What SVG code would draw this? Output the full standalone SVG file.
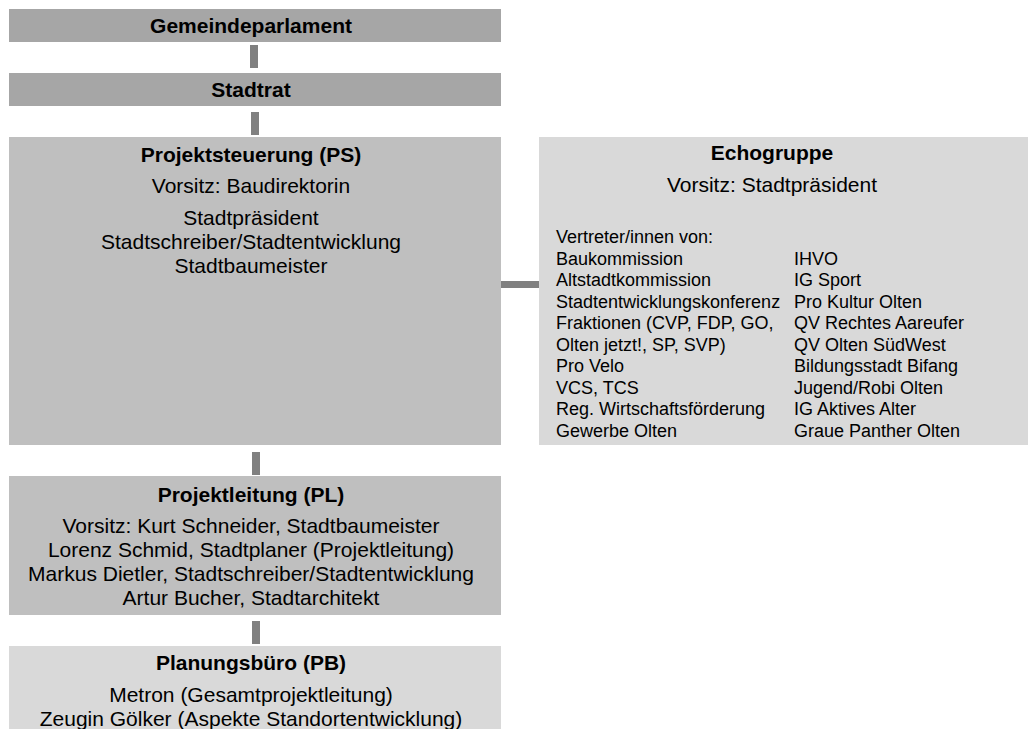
<svg xmlns="http://www.w3.org/2000/svg" width="1028" height="729" viewBox="0 0 1028 729">
<style>
text{font-family:"Liberation Sans",Arial,sans-serif;fill:#000;}
.t{font-size:21px;text-anchor:middle;}
.b{font-weight:bold;}
.l{font-size:18px;}
.dk{fill:#a6a6a6;}
.md{fill:#bfbfbf;}
.lt{fill:#d9d9d9;}
.cn{fill:#808080;}
</style>
<rect width="1028" height="729" fill="#ffffff"/>
<g id="connectors">
<rect class="cn" x="250" y="45" width="8" height="23"/>
<rect class="cn" x="251" y="112" width="8" height="23"/>
<rect class="cn" x="252" y="452" width="8" height="23"/>
<rect class="cn" x="252" y="621" width="8" height="23"/>
<rect class="cn" x="501" y="281" width="39" height="7"/>
</g>
<g id="gemeindeparlament">
<rect class="dk" x="9" y="9" width="492" height="33"/>
<text class="t b" x="251" y="32.5">Gemeindeparlament</text>
</g>
<g id="stadtrat">
<rect class="dk" x="9" y="73" width="492" height="33"/>
<text class="t b" x="251" y="96.5">Stadtrat</text>
</g>
<g id="projektsteuerung">
<rect class="md" x="9" y="137" width="492" height="308"/>
<text class="t b" x="251" y="162">Projektsteuerung (PS)</text>
<text class="t" x="251" y="193">Vorsitz: Baudirektorin</text>
<text class="t" x="251" y="224.5">Stadtpräsident</text>
<text class="t" x="251" y="248.5">Stadtschreiber/Stadtentwicklung</text>
<text class="t" x="251" y="272.5">Stadtbaumeister</text>
</g>
<g id="echogruppe">
<rect class="lt" x="539" y="137" width="489" height="308"/>
<text class="t b" x="772" y="160">Echogruppe</text>
<text class="t" x="772" y="192">Vorsitz: Stadtpräsident</text>
<text class="l" x="556" y="243">Vertreter/innen von:</text>
<text class="l" x="556" y="264.5">Baukommission</text>
<text class="l" x="556" y="286">Altstadtkommission</text>
<text class="l" x="556" y="307.5">Stadtentwicklungskonferenz</text>
<text class="l" x="556" y="329">Fraktionen (CVP, FDP, GO,</text>
<text class="l" x="556" y="350.5">Olten jetzt!, SP, SVP)</text>
<text class="l" x="556" y="372">Pro Velo</text>
<text class="l" x="556" y="393.5">VCS, TCS</text>
<text class="l" x="556" y="415">Reg. Wirtschaftsförderung</text>
<text class="l" x="556" y="436.5">Gewerbe Olten</text>
<text class="l" x="794" y="264.5">IHVO</text>
<text class="l" x="794" y="286">IG Sport</text>
<text class="l" x="794" y="307.5">Pro Kultur Olten</text>
<text class="l" x="794" y="329">QV Rechtes Aareufer</text>
<text class="l" x="794" y="350.5">QV Olten SüdWest</text>
<text class="l" x="794" y="372">Bildungsstadt Bifang</text>
<text class="l" x="794" y="393.5">Jugend/Robi Olten</text>
<text class="l" x="794" y="415">IG Aktives Alter</text>
<text class="l" x="794" y="436.5">Graue Panther Olten</text>
</g>
<g id="projektleitung">
<rect class="md" x="9" y="476" width="492" height="139"/>
<text class="t b" x="251" y="501.5">Projektleitung (PL)</text>
<text class="t" x="251" y="533">Vorsitz: Kurt Schneider, Stadtbaumeister</text>
<text class="t" x="251" y="557">Lorenz Schmid, Stadtplaner (Projektleitung)</text>
<text class="t" x="251" y="581">Markus Dietler, Stadtschreiber/Stadtentwicklung</text>
<text class="t" x="251" y="605">Artur Bucher, Stadtarchitekt</text>
</g>
<g id="planungsbuero">
<rect class="lt" x="9" y="646" width="492" height="83"/>
<text class="t b" x="251" y="670">Planungsbüro (PB)</text>
<text class="t" x="251" y="701.5">Metron (Gesamtprojektleitung)</text>
<text class="t" x="251" y="725.5">Zeugin Gölker (Aspekte Standortentwicklung)</text>
</g>
</svg>
